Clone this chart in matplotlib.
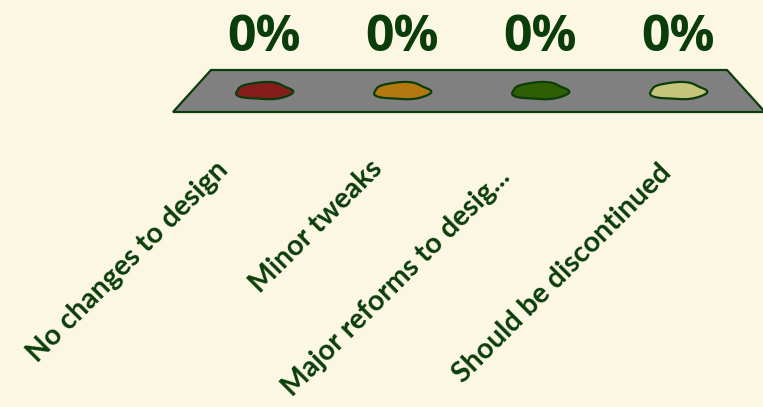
import numpy as np
import matplotlib.pyplot as plt
from matplotlib.patches import Polygon

# chart data
categories = ['No changes to design', 'Minor tweaks',
              'Major reforms to desig...', 'Should be discontinued']
values = [0, 0, 0, 0]
bar_colors = ['#851d1d', '#b47810', '#2f5f03', '#c4c47a']

bg = '#fcf7e3'
dark = '#0b3d0b'

# where the end of each slanted label sits (offset from bar centre, baseline y)
label_dx = [-34, -18, -28, -5]
label_y = [171, 170, 178, 174]

fig = plt.figure(figsize=(7.63, 4.07), dpi=100, facecolor=bg)
ax = fig.add_axes([0, 0, 1, 1])
ax.set_xlim(0, 763)
ax.set_ylim(407, 0)
ax.axis('off')
ax.set_facecolor(bg)

# gray platform
plat = Polygon([(173, 112), (211, 70), (727, 70), (765, 112)], closed=True,
               facecolor='#808080', edgecolor=dark, lw=1.6, zorder=1)
ax.add_patch(plat)

# blob outline (irregular ellipse for the zero-height bars)
t = np.linspace(0, 2 * np.pi, 60)
r = 1 + 0.06 * np.sin(3 * t) + 0.04 * np.cos(5 * t)
bx = 28 * np.cos(t) * r
by = 8.5 * np.sin(t) * r

x0, step = 264, 138
for i, (cat, v, c) in enumerate(zip(categories, values, bar_colors)):
    cx = x0 + i * step
    ax.add_patch(Polygon(np.column_stack([cx + bx, 91 + by]), closed=True,
                         facecolor=c, edgecolor=dark, lw=1.6, zorder=2))
    ax.text(cx, 38, f'{v}%', ha='center', va='center', fontsize=36,
            fontweight='bold', color=dark, family='Open Sans')
    ax.text(cx + label_dx[i], label_y[i], cat, rotation=45,
            rotation_mode='anchor', ha='right', va='baseline',
            fontsize=20.5, fontweight='bold', color=dark, family='Lato')

fig.savefig('out.png', dpi=100, facecolor=bg)
